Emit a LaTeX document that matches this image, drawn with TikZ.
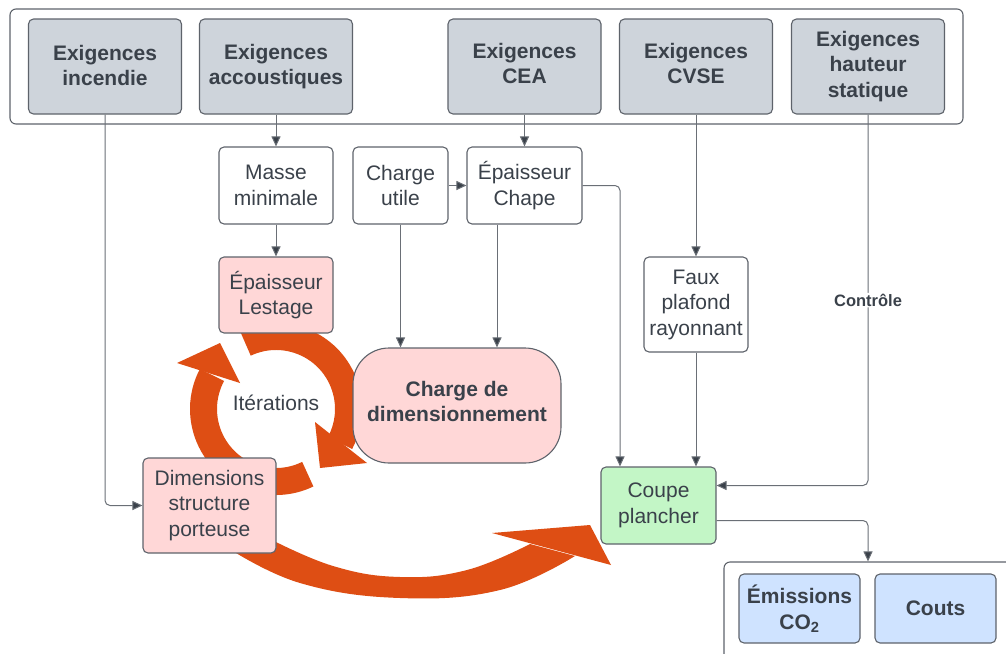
\documentclass[tikz,border=0pt]{standalone}
\usepackage{fontspec}
\setmainfont{Liberation Sans}
\usetikzlibrary{arrows.meta,calc}
\definecolor{txt}{HTML}{3A414A}
\definecolor{bord}{HTML}{5E636B}
\definecolor{lin}{HTML}{6A6F76}
\definecolor{gfill}{HTML}{CED4DB}
\definecolor{pfill}{HTML}{FFD7D7}
\definecolor{grfill}{HTML}{C3F6C6}
\definecolor{bfill}{HTML}{CFE3FF}
\definecolor{orng}{HTML}{DE4E14}
\newcommand\fs{\fontsize{21}{25.5}\selectfont}
\begin{document}
\begin{tikzpicture}[x=1pt,y=-1pt,
 box/.style={draw=bord, line width=1.1pt, rounded corners=5pt, align=center, inner sep=0pt, text=txt, font=\fs},
 topbox/.style={box, fill=gfill, font=\fs\bfseries, minimum width=153pt, minimum height=95pt},
 wbox/.style={box, fill=white},
 cont/.style={draw=bord, line width=1.1pt, rounded corners=6pt, inner sep=0pt},
 conn/.style={draw=lin, line width=1pt, rounded corners=5pt, -{Triangle[length=10pt,width=9pt,fill=txt]}},
 lbl/.style={fill=white, text=txt, font=\fontsize{16.5}{20}\selectfont\bfseries, inner sep=1pt}
]
\useasboundingbox (0,0) rectangle (1006,653);
% containers
\node[cont, minimum width=953pt, minimum height=115pt] (topc) at (486.5,66.5) {};
\node[cont, minimum width=296pt, minimum height=108pt] (botc) at (872,616) {};
% orange cycle arrows
\coordinate (cc) at (276,409);
\draw[orng, line width=27pt] ($(cc)+(-115:72.5)$) arc[start angle=-115, end angle=28, radius=72.5];
\fill[orng] (315,422) -- (320,468) -- (367,463) -- cycle;
\draw[orng, line width=27pt] ($(cc)+(64:72.5)$) arc[start angle=64, end angle=208, radius=72.5];
\fill[orng] (177,363) -- (220,343) -- (240,383) -- cycle;
% big orange arrow
\fill[orng] plot[smooth,tension=0.7] coordinates {(268,538) (333,566) (400,577) (467,570) (530,544)}
  -- plot[smooth,tension=0.7] coordinates {(575,556) (500,590) (400,598) (300,583) (228,548)} -- cycle;
\fill[orng] (492,533) -- (590,525) -- (611,565) -- cycle;
% top boxes
\node[topbox] (inc) at (105,66.5) {Exigences\\incendie\rule[-2pt]{0pt}{1pt}};
\node[topbox] (acc) at (276,66.5) {Exigences\\accoustiques};
\node[topbox] (cea) at (524.5,66.5) {Exigences\\CEA\rule[-6pt]{0pt}{1pt}};
\node[topbox] (cvse) at (696,66.5) {Exigences\\CVSE\rule[-6pt]{0pt}{1pt}};
\node[topbox] (haut) at (868,66.5) {Exigences\\hauteur\\statique};
% middle
\node[wbox, minimum width=114pt, minimum height=77pt] (masse) at (276,185.5) {Masse\\minimale};
\node[wbox, minimum width=95pt, minimum height=77pt] (cu) at (400.5,185.5) {Charge\\utile};
\node[wbox, minimum width=115pt, minimum height=77pt] (chape) at (524.5,185.5) {Épaisseur\\Chape};
\node[box, fill=pfill, minimum width=114pt, minimum height=76pt] (lest) at (276,295) {Épaisseur\\Lestage};
\node[box, fill=pfill, rounded corners=36pt, minimum width=208pt, minimum height=115pt, font=\fs\bfseries] (cdim) at (457,405.5) {Charge de\\dimensionnement\rule[-8pt]{0pt}{1pt}};
\node[box, fill=pfill, minimum width=133pt, minimum height=95pt] (dim) at (209.5,505.5) {Dimensions\\structure\\porteuse};
\node[wbox, minimum width=104pt, minimum height=95pt] (faux) at (696,304.5) {Faux\\plafond\\rayonnant};
\node[box, fill=grfill, minimum width=115pt, minimum height=77pt] (coupe) at (658.5,505.5) {Coupe\\plancher};
\node[box, fill=bfill, font=\fs\bfseries, minimum width=121pt, minimum height=69pt] (emis) at (799.5,608.5) {Émissions\\CO\textsubscript{2}};
\node[box, fill=bfill, font=\fs\bfseries, minimum width=121pt, minimum height=69pt] (couts) at (935.5,608.5) {Couts};
\node[text=txt, font=\fs] (iter) at (276,403) {Itérations};
% connectors
\draw[conn] (inc.south) |- (dim.west);
\draw[conn] (acc.south) -- (masse.north);
\draw[conn] (masse.south) -- (lest.north);
\draw[conn] (cea.south) -- (chape.north);
\draw[conn] (cu.east) -- (chape.west);
\draw[conn] (chape.east) -| ([xshift=-38.5pt]coupe.north);
\draw[conn] (cu.south) -- (cu.south |- cdim.north);
\draw[conn] ([xshift=-27.5pt]chape.south) -- ([xshift=-27.5pt]chape.south |- cdim.north);
\draw[conn] (cvse.south) -- (faux.north);
\draw[conn] (faux.south) -- (faux.south |- coupe.north);
\draw[conn] (haut.south) |- node[lbl, pos=0.25]{Contrôle} ([yshift=20pt]coupe.east);
\draw[conn] ([yshift=-15pt]coupe.east) -| (haut.south |- botc.north);
\end{tikzpicture}
\end{document}
